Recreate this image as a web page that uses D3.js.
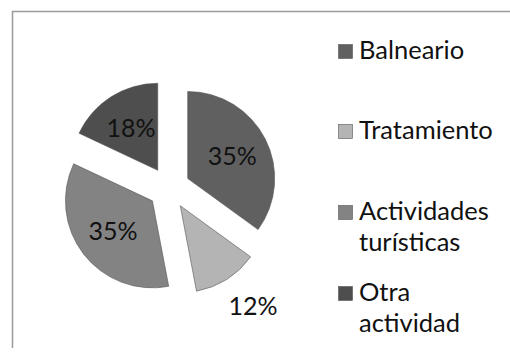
<!DOCTYPE html>
<html>
<head>
<meta charset="utf-8">
<script src="https://cdn.jsdelivr.net/npm/d3@7"></script>
<style>
  html, body { margin: 0; padding: 0; background: #fff; }
  svg { display: block; }
  text { font-family: Lato, "Open Sans", "Liberation Sans", sans-serif; fill: #111; }
</style>
</head>
<body>
<svg id="chart" width="510" height="358"></svg>
<script>
// Shares of visitors by activity (percent)
const categories = ["Balneario", "Tratamiento", "Actividades turísticas", "Otra actividad"];
const values = [35, 12, 35, 18];
const legendLines = [["Balneario"], ["Tratamiento"], ["Actividades", "turísticas"], ["Otra", "actividad"]];
const fills = ["#606060", "#b4b4b4", "#838383", "#4e4e4e"];

const svg = d3.select("#chart");

// chart area frame (left and top edges visible)
svg.append("path")
  .attr("d", "M12.5,348 L12.5,11.5 L512,11.5")
  .attr("fill", "none")
  .attr("stroke", "#9a9a9a")
  .attr("stroke-width", 1.5);

const cx = 169, cy = 188, r = 87, explode = 21;

const pie = d3.pie().sort(null).value(d => d)(values);
const arc = d3.arc().innerRadius(0).outerRadius(r);

const g = svg.append("g").attr("transform", `translate(${cx},${cy})`);

const slices = g.selectAll("g.slice")
  .data(pie)
  .join("g")
  .attr("class", "slice")
  .attr("transform", d => {
    const a = (d.startAngle + d.endAngle) / 2;
    return `translate(${Math.sin(a) * explode},${-Math.cos(a) * explode})`;
  });

slices.append("path")
  .attr("d", arc)
  .attr("fill", (d, i) => fills[i])
  .attr("stroke", "#555")
  .attr("stroke-width", 0.6);

const fmt = v => v + "%";
const labelFont = 25;

slices.each(function (d, i) {
  const a = (d.startAngle + d.endAngle) / 2;
  const sel = d3.select(this);
  if (d.value >= 15) {
    const lr = 50;
    sel.append("text")
      .attr("x", Math.sin(a) * lr)
      .attr("y", -Math.cos(a) * lr)
      .attr("text-anchor", "middle")
      .attr("dy", "0.35em")
      .attr("font-size", labelFont)
      .text(fmt(d.value));
  } else {
    // small slice: label sits outside the rim
    const lr = r + 16;
    sel.append("text")
      .attr("x", Math.sin(a) * lr - 7)
      .attr("y", -Math.cos(a) * lr)
      .attr("text-anchor", "start")
      .attr("dy", "0.9em")
      .attr("font-size", labelFont)
      .text(fmt(d.value));
  }
});

// legend
const legendX = 338, legendTop = [44, 124, 205, 286];
const lg = svg.append("g");
categories.forEach((c, i) => {
  const item = lg.append("g").attr("transform", `translate(${legendX},${legendTop[i]})`);
  item.append("rect")
    .attr("x", 0.5).attr("y", 0.5)
    .attr("width", 14).attr("height", 14)
    .attr("fill", fills[i])
    .attr("stroke", "#555")
    .attr("stroke-width", 0.6);
  legendLines[i].forEach((ln, j) => {
    item.append("text")
      .attr("x", 21)
      .attr("y", 15 + j * 31)
      .attr("font-size", 25.5)
      .text(ln);
  });
});
</script>
</body>
</html>
